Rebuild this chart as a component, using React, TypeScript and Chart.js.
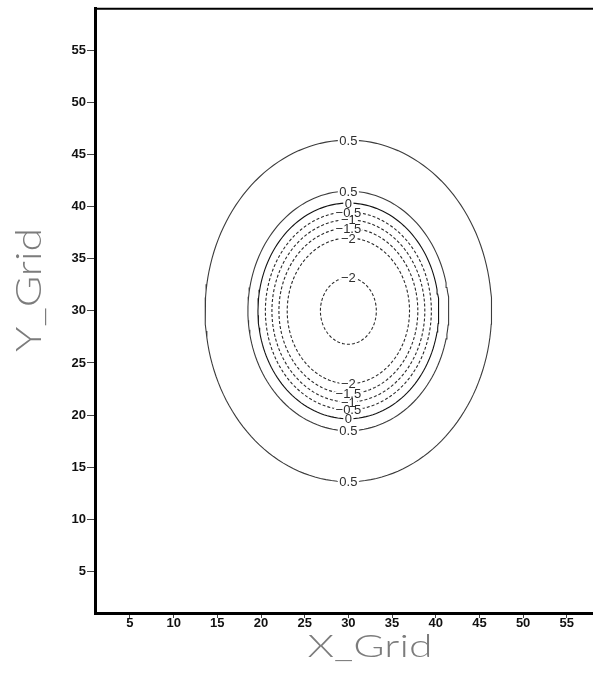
import React, { useEffect, useRef } from 'react';
import { Chart, registerables } from 'chart.js';

Chart.register(...registerables);

// Contour rings of the field: level and radius (grid units) about the centre point.
const contourLevels = [0.5, 0.5, 0, -0.5, -1, -1.5, -2, -2];
const contourRadii = [16.4, 11.5, 10.35, 9.5, 8.75, 7.95, 7.0, 3.2];
const labelOnTop = [true, true, true, true, true, true, true, true];
const labelOnBottom = [true, true, true, true, true, true, true, false];
const centreX = 30;
const centreY = 30;

// Axis ranges and tick values
const xRange = [1, 58];
const yRange = [1, 59];
const xTicks = [5, 10, 15, 20, 25, 30, 35, 40, 45, 50, 55];
const yTicks = [5, 10, 15, 20, 25, 30, 35, 40, 45, 50, 55];
const xTitle = 'X_Grid';
const yTitle = 'Y_Grid';

const RING_STEPS = 160;

function ringPoints(r: number) {
  const pts: { x: number; y: number }[] = [];
  for (let i = 0; i <= RING_STEPS; i++) {
    const a = Math.PI / 2 + (2 * Math.PI * i) / RING_STEPS;
    pts.push({ x: centreX + r * Math.cos(a), y: centreY + r * Math.sin(a) });
  }
  return pts;
}

function levelText(v: number) {
  return v < 0 ? '\u2212' + String(Math.abs(v)) : String(v);
}

function ringStyle(level: number) {
  if (level > 0) return { color: '#3c3c3c', dash: [] as number[] };
  if (level === 0) return { color: '#141414', dash: [] as number[] };
  return { color: '#2a2a2a', dash: [3, 2] };
}

const contourLabels = {
  id: 'contourLabels',
  afterDatasetsDraw(chart: any) {
    const { ctx } = chart;
    const xs = chart.scales.x;
    const ys = chart.scales.y;
    ctx.save();
    ctx.font = '13px "Liberation Sans", Arial, sans-serif';
    ctx.textAlign = 'center';
    ctx.textBaseline = 'middle';
    contourLevels.forEach((lv, i) => {
      const r = contourRadii[i];
      const spots: number[] = [];
      if (labelOnTop[i]) spots.push(centreY + r);
      if (labelOnBottom[i]) spots.push(centreY - r);
      const txt = levelText(lv);
      const w = ctx.measureText(txt).width + 3;
      spots.forEach((yv) => {
        const px = xs.getPixelForValue(centreX);
        const py = ys.getPixelForValue(yv);
        ctx.fillStyle = '#ffffff';
        ctx.fillRect(px - w / 2, py - 2, w, 4);
        ctx.fillStyle = '#2e2e2e';
        ctx.fillText(txt, px, py + 1);
      });
    });
    ctx.restore();
  },
};

const frameAndTitles = {
  id: 'frameAndTitles',
  afterDraw(chart: any) {
    const { ctx, chartArea } = chart;
    ctx.save();
    // top edge of the frame
    ctx.strokeStyle = '#000';
    ctx.lineWidth = 2;
    ctx.beginPath();
    ctx.moveTo(chartArea.left, chartArea.top);
    ctx.lineTo(chartArea.right, chartArea.top);
    ctx.stroke();

    ctx.fillStyle = '#7c7c7c';
    ctx.font = '300 36px Lato, "DejaVu Sans", sans-serif';
    ctx.textAlign = 'center';
    ctx.textBaseline = 'alphabetic';
    const xw = ctx.measureText(xTitle).width;
    ctx.save();
    ctx.translate((chartArea.left + chartArea.right) / 2 + 26, 657);
    ctx.scale(125 / xw, 0.85);
    ctx.fillText(xTitle, 0, 0);
    ctx.restore();

    const yw = ctx.measureText(yTitle).width;
    ctx.save();
    ctx.translate(41, 290);
    ctx.rotate(-Math.PI / 2);
    ctx.scale(124 / yw, 1);
    ctx.fillText(yTitle, 0, 0);
    ctx.restore();
    ctx.restore();
  },
};

export default function App() {
  const ref = useRef<HTMLCanvasElement | null>(null);

  useEffect(() => {
    if (!ref.current) return;
    const tickFont = { family: '"Liberation Sans", Arial, sans-serif', size: 13, weight: 'bold' as const };
    const chart = new Chart(ref.current, {
      type: 'scatter',
      data: {
        datasets: contourLevels.map((lv, i) => {
          const st = ringStyle(lv);
          return {
            label: levelText(lv),
            data: ringPoints(contourRadii[i]),
            showLine: true,
            borderColor: st.color,
            borderDash: st.dash,
            borderWidth: 1.1,
            pointRadius: 0,
            fill: false,
            tension: 0,
          };
        }),
      },
      options: {
        animation: false,
        responsive: false,
        devicePixelRatio: 1,
        layout: { padding: { left: 8, top: 8, right: 0, bottom: 0 } },
        plugins: { legend: { display: false }, tooltip: { enabled: false } },
        scales: {
          x: {
            type: 'linear',
            min: xRange[0],
            max: xRange[1],
            afterBuildTicks: (s: any) => {
              s.ticks = xTicks.map((v) => ({ value: v }));
            },
            afterFit: (s: any) => {
              s.height = 60;
            },
            grid: { drawOnChartArea: false, drawTicks: true, tickLength: 5, tickColor: '#444', tickWidth: 1 },
            border: { display: true, color: '#000', width: 3 },
            ticks: { color: '#111', font: tickFont, padding: -2, maxRotation: 0, autoSkip: false },
          },
          y: {
            type: 'linear',
            min: yRange[0],
            max: yRange[1],
            afterBuildTicks: (s: any) => {
              s.ticks = yTicks.map((v) => ({ value: v }));
            },
            afterFit: (s: any) => {
              s.width = 87;
            },
            grid: { drawOnChartArea: false, drawTicks: true, tickLength: 8, tickColor: '#444', tickWidth: 1 },
            border: { display: true, color: '#000', width: 3 },
            ticks: { color: '#111', font: tickFont, padding: 1, autoSkip: false },
          },
        },
      },
      plugins: [contourLabels, frameAndTitles],
    });
    return () => chart.destroy();
  }, []);

  return (
    <div style={{ position: 'fixed', left: 0, top: 0, width: 593, height: 673, background: '#fff' }}>
      <canvas ref={ref} width={593} height={673} style={{ display: 'block' }} />
    </div>
  );
}
